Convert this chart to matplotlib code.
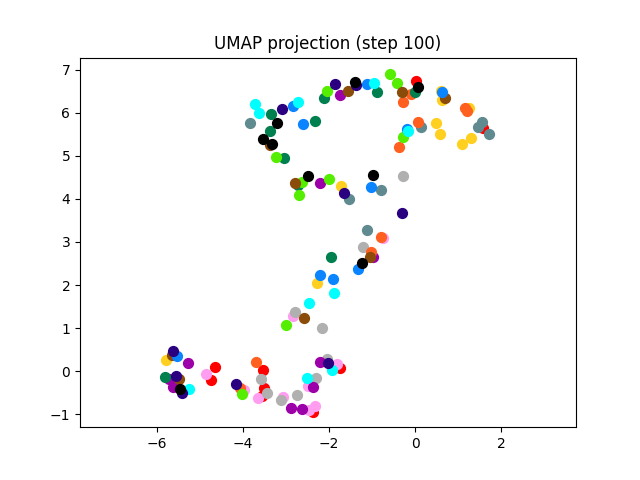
import matplotlib
matplotlib.use("Agg")
import matplotlib.pyplot as plt

# one list of (x, y) per cluster colour
black = [(-3.21, 5.77), (-3.53, 5.40), (-3.33, 5.28), (-2.49, 4.53), (-1.40, 6.72),
         (0.07, 6.60), (-0.98, 4.56), (-1.23, 2.51), (-5.47, -0.42)]
indigo = [(-3.09, 6.09), (-1.86, 6.67), (-1.37, 6.65), (-1.65, 4.14), (-0.30, 3.67),
          (-5.63, 0.47), (-5.56, -0.12), (-5.42, -0.51), (-4.16, -0.30), (-2.02, 0.19)]
cyan = [(-3.72, 6.21), (-3.63, 6.00), (-2.72, 6.26), (-0.95, 6.70), (-0.16, 5.58),
        (-1.88, 1.81), (-2.47, 1.58), (-5.26, -0.42), (-1.93, 0.02), (-2.51, -0.16)]
blue = [(-2.84, 6.16), (-2.60, 5.74), (-1.12, 6.67), (0.63, 6.47), (-0.19, 5.63),
        (-1.02, 4.28), (-1.33, 2.37), (-2.21, 2.23), (-1.91, 2.14), (-5.53, 0.35)]
green = [(-3.35, 5.98), (-3.37, 5.58), (-2.33, 5.81), (-3.05, 4.95), (-2.12, 6.35),
         (-0.88, 6.47), (0.00, 6.47), (-2.72, 4.33), (-1.95, 2.65), (-5.81, -0.14)]
lime = [(-3.23, 4.98), (-2.05, 6.51), (-0.58, 6.91), (-0.42, 6.70), (-0.28, 5.44),
        (-2.63, 4.40), (-2.70, 4.09), (-2.00, 4.47), (-3.00, 1.07), (-4.02, -0.53)]
orange = [(-0.09, 6.44), (-0.28, 6.26), (1.16, 6.12), (1.21, 6.05), (0.07, 5.79),
          (-0.37, 5.21), (-0.79, 3.12), (-1.02, 2.77), (-3.70, 0.21), (-4.07, -0.40)]
red = [(0.02, 6.74), (1.58, 5.65), (-4.65, 0.09), (-4.74, -0.21), (-3.53, 0.02),
       (-3.51, -0.40), (-3.56, -0.58), (-1.74, 0.07), (-2.37, -0.95)]
gold = [(0.60, 6.51), (0.63, 6.30), (1.26, 6.12), (0.49, 5.77), (0.58, 5.51),
        (1.30, 5.42), (1.09, 5.28), (-1.72, 4.30), (-2.28, 2.05), (-5.79, 0.26)]
brown = [(-3.37, 5.26), (-1.56, 6.51), (-0.30, 6.47), (0.70, 6.35), (-2.79, 4.37),
         (-1.05, 2.65), (-2.58, 1.23), (-5.65, 0.37), (-5.49, -0.19)]
purple = [(-1.74, 6.42), (-2.21, 4.37), (-0.98, 2.65), (-5.28, 0.19), (-5.72, -0.19),
          (-5.63, -0.37), (-2.21, 0.21), (-2.37, -0.37), (-2.88, -0.86), (-2.63, -0.88)]
pink = [(-0.74, 3.09), (-2.84, 1.28), (-4.86, -0.07), (-3.98, -0.44), (-3.65, -0.63),
        (-1.81, 0.16), (-2.49, -0.35), (-3.07, -0.60), (-2.47, -0.91), (-2.33, -0.81)]
gray = [(-0.28, 4.53), (-1.21, 2.88), (-2.79, 1.37), (-2.16, 1.00), (-3.58, -0.19),
        (-3.44, -0.51), (-2.05, 0.28), (-2.30, -0.16), (-3.12, -0.67), (-2.74, -0.56)]
slate = [(-3.84, 5.77), (-1.53, 4.00), (-0.79, 4.21), (-1.12, 3.28), (0.14, 5.67),
         (1.56, 5.79), (1.47, 5.67), (1.72, 5.51)]

clusters = [
    (red, "#ff0000"), (pink, "#ff9ef0"), (gray, "#b0b0b0"), (purple, "#9c00a8"),
    (slate, "#5f8b90"), (gold, "#ffd020"), (orange, "#ff6020"), (green, "#007f4f"),
    (lime, "#55ee00"), (brown, "#8b4c0a"), (blue, "#0a84ff"), (cyan, "#00ffff"),
    (indigo, "#2a0080"), (black, "#000000"),
]

fig, ax = plt.subplots(figsize=(6.4, 4.8), dpi=100)
for pts, col in clusters:
    xs = [p[0] for p in pts]
    ys = [p[1] for p in pts]
    ax.scatter(xs, ys, c=col, s=50)

ax.set_xlim(-7.79, 3.74)
ax.set_ylim(-1.30, 7.28)
ax.set_title("UMAP projection (step 100)")
fig.savefig("out.png")
